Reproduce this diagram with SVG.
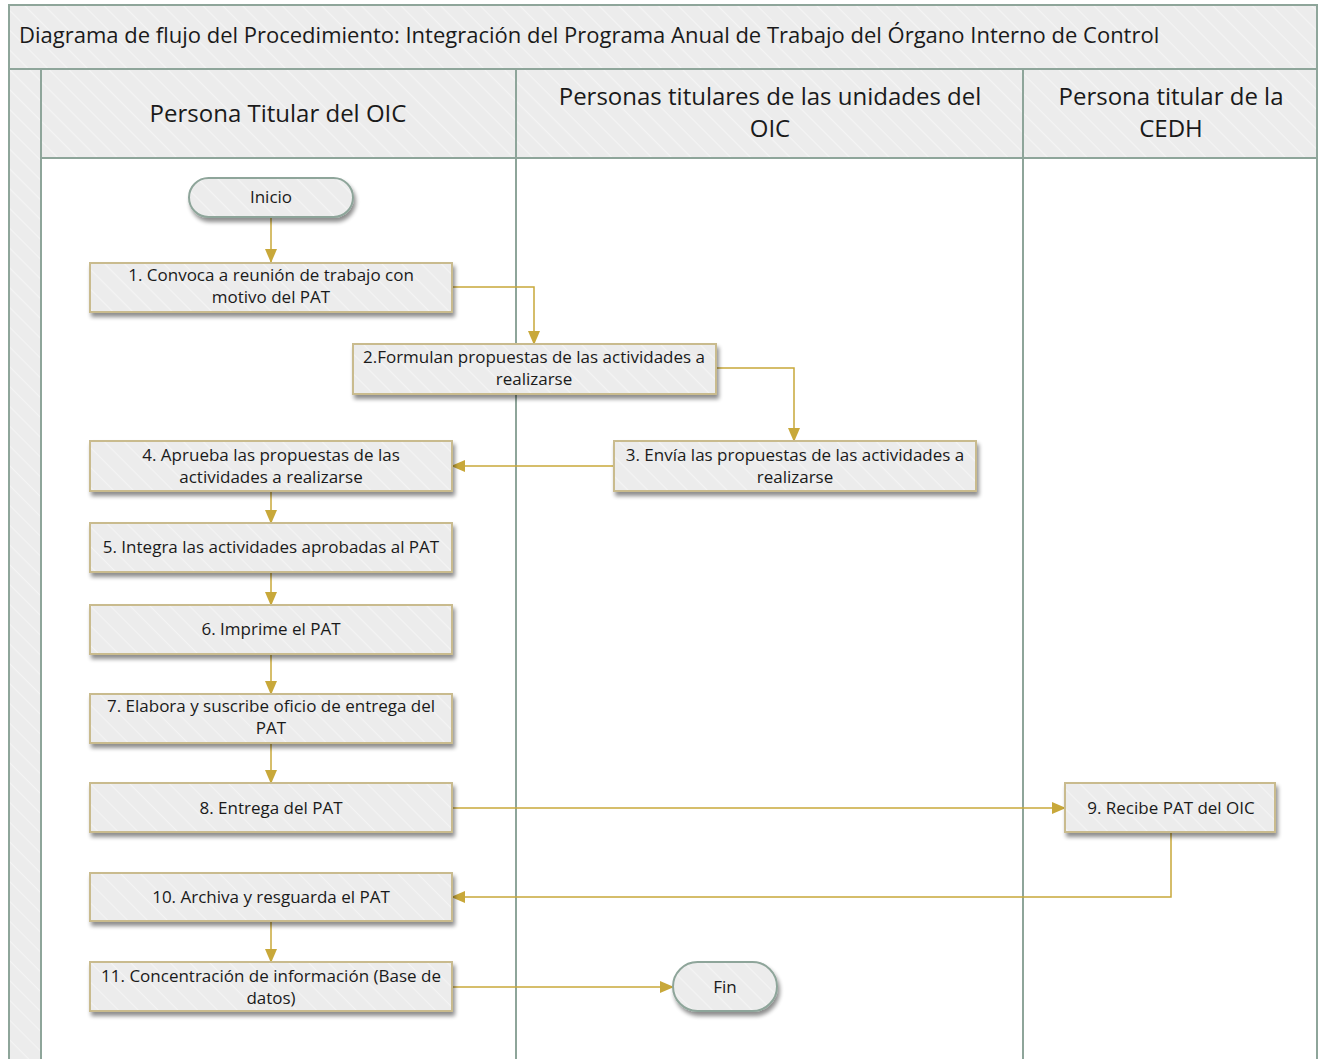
<svg xmlns="http://www.w3.org/2000/svg" width="1320" height="1059" viewBox="0 0 1320 1059">
<defs>
<pattern id="hatch" patternUnits="userSpaceOnUse" width="14" height="14" patternTransform="rotate(45)">
<rect width="14" height="14" fill="#ececec"/>
<rect width="14" height="1.2" fill="#f4f4f4"/>
</pattern>
<filter id="sh" x="-10%" y="-20%" width="125%" height="160%">
<feGaussianBlur in="SourceAlpha" stdDeviation="2"/>
<feOffset dx="2" dy="4" result="b"/>
<feComponentTransfer><feFuncA type="linear" slope="0.45"/></feComponentTransfer>
<feMerge><feMergeNode/><feMergeNode in="SourceGraphic"/></feMerge>
</filter>
<marker id="ah" markerWidth="14" markerHeight="12" refX="13" refY="6" orient="auto" markerUnits="userSpaceOnUse">
<path d="M0,0 L14,6 L0,12 Z" fill="#c8a83a"/>
</marker>
</defs>
<style>
.lane{fill:#ffffff;stroke:#8ea59a;stroke-width:2}
.hdr{fill:url(#hatch);stroke:#8ea59a;stroke-width:2}
.box{fill:url(#hatch);stroke:#c9bb8e;stroke-width:2;filter:url(#sh)}
.term{fill:url(#hatch);stroke:#8ea59a;stroke-width:2;filter:url(#sh)}
.t{font-family:"Open Sans","Noto Sans","Liberation Sans",sans-serif;font-size:17px;fill:#1a1a1a;text-anchor:middle}
.h{font-family:"Open Sans","Noto Sans","Liberation Sans",sans-serif;font-size:24px;fill:#1a1a1a;text-anchor:middle}
.title{font-family:"Open Sans","Noto Sans","Liberation Sans",sans-serif;font-size:22px;fill:#1a1a1a}
.c{fill:none;stroke:#c8a83a;stroke-width:1.5;marker-end:url(#ah)}
</style>

<g id="pool">
<rect x="9" y="5" width="1308" height="1060" class="hdr"/>
<text class="title" x="19" y="43">Diagrama de flujo del Procedimiento: Integración del Programa Anual de Trabajo del Órgano Interno de Control</text>
<rect x="9" y="69" width="32" height="996" class="hdr"/>
</g>

<g id="lane1">
<rect x="41" y="158" width="475" height="907" class="lane"/>
<rect x="41" y="69" width="475" height="89" class="hdr"/>
<text class="h" x="278" y="122">Persona Titular del OIC</text>
</g>
<g id="lane2">
<rect x="516" y="158" width="507" height="907" class="lane"/>
<rect x="516" y="69" width="507" height="89" class="hdr"/>
<text class="h" x="770" y="105">Personas titulares de las unidades del</text>
<text class="h" x="770" y="137">OIC</text>
</g>
<g id="lane3">
<rect x="1023" y="158" width="294" height="907" class="lane"/>
<rect x="1023" y="69" width="294" height="89" class="hdr"/>
<text class="h" x="1171" y="105">Persona titular de la</text>
<text class="h" x="1171" y="137">CEDH</text>
</g>

<g id="connectors">
<path class="c" d="M271,217 V262"/>
<path class="c" d="M452,287 H534 V344"/>
<path class="c" d="M716,368 H794 V441"/>
<path class="c" d="M614,466 H452"/>
<path class="c" d="M271,491 V523"/>
<path class="c" d="M271,572 V605"/>
<path class="c" d="M271,654 V694"/>
<path class="c" d="M271,743 V783"/>
<path class="c" d="M452,808 H1065"/>
<path class="c" d="M1171,833 V897 H452"/>
<path class="c" d="M271,922 V962"/>
<path class="c" d="M452,987 H673"/>
</g>

<g id="inicio">
<rect x="189" y="178" width="164" height="39" rx="19.5" class="term"/>
<text class="t" x="271" y="203">Inicio</text>
</g>
<g id="n1">
<rect x="90" y="263" width="362" height="49" class="box"/>
<text class="t" x="271" y="281">1. Convoca a reunión de trabajo con</text>
<text class="t" x="271" y="303">motivo del PAT</text>
</g>
<g id="n2">
<rect x="353" y="344" width="363" height="50" class="box"/>
<text class="t" x="534" y="363">2.Formulan propuestas de las actividades a</text>
<text class="t" x="534" y="385">realizarse</text>
</g>
<g id="n3">
<rect x="614" y="441" width="362" height="50" class="box"/>
<text class="t" x="795" y="461">3. Envía las propuestas de las actividades a</text>
<text class="t" x="795" y="483">realizarse</text>
</g>
<g id="n4">
<rect x="90" y="441" width="362" height="50" class="box"/>
<text class="t" x="271" y="461">4. Aprueba las propuestas de las</text>
<text class="t" x="271" y="483">actividades a realizarse</text>
</g>
<g id="n5">
<rect x="90" y="523" width="362" height="49" class="box"/>
<text class="t" x="271" y="553">5. Integra las actividades aprobadas al PAT</text>
</g>
<g id="n6">
<rect x="90" y="605" width="362" height="49" class="box"/>
<text class="t" x="271" y="635">6. Imprime el PAT</text>
</g>
<g id="n7">
<rect x="90" y="694" width="362" height="49" class="box"/>
<text class="t" x="271" y="712">7. Elabora y suscribe oficio de entrega del</text>
<text class="t" x="271" y="734">PAT</text>
</g>
<g id="n8">
<rect x="90" y="783" width="362" height="49" class="box"/>
<text class="t" x="271" y="814">8. Entrega del PAT</text>
</g>
<g id="n9">
<rect x="1065" y="783" width="210" height="49" class="box"/>
<text class="t" x="1171" y="814">9. Recibe PAT del OIC</text>
</g>
<g id="n10">
<rect x="90" y="873" width="362" height="48" class="box"/>
<text class="t" x="271" y="903">10. Archiva y resguarda el PAT</text>
</g>
<g id="n11">
<rect x="90" y="962" width="362" height="49" class="box"/>
<text class="t" x="271" y="982">11. Concentración de información (Base de</text>
<text class="t" x="271" y="1004">datos)</text>
</g>
<g id="fin">
<rect x="673" y="962" width="104" height="49" rx="24.5" class="term"/>
<text class="t" x="725" y="993">Fin</text>
</g>
</svg>
